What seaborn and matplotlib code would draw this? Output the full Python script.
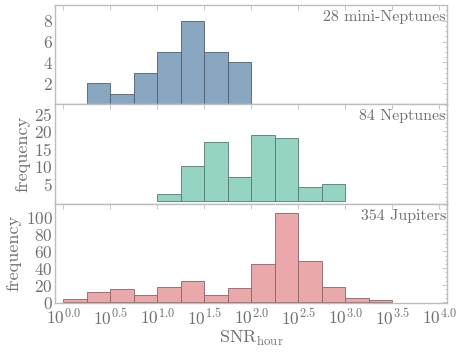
import numpy as np
import pandas as pd
import matplotlib
matplotlib.use("Agg")
import matplotlib.pyplot as plt
import seaborn as sns
from matplotlib.ticker import MultipleLocator, FuncFormatter, AutoMinorLocator

# log10(SNR_hour) bins are 0.25 dex wide; lower bin edges and counts
bin_width = 0.25

mini_lo = [0.25, 0.50, 0.75, 1.00, 1.25, 1.50, 1.75]
mini_counts = [2, 1, 3, 5, 8, 5, 4]

nep_lo = [1.00, 1.25, 1.50, 1.75, 2.00, 2.25, 2.50, 2.75]
nep_counts = [2, 10, 17, 7, 19, 18, 4, 5]

jup_lo = [0.00, 0.25, 0.50, 0.75, 1.00, 1.25, 1.50, 1.75,
          2.00, 2.25, 2.50, 2.75, 3.00, 3.25]
jup_counts = [4, 12, 15, 8, 18, 25, 9, 17, 45, 105, 49, 18, 5, 3]

panel_labels = ["28 mini-Neptunes", "84 Neptunes", "354 Jupiters"]
panel_colors = ["#8aa7c2", "#95d3c3", "#eaa8aa"]
edge_colors = ["#4d5f70", "#557a70", "#8a6264"]
y_limits = [(0, 9.5), (-0.8, 27.8), (-1, 116)]
y_ticks = [[2, 4, 6, 8], [5, 10, 15, 20, 25], [0, 20, 40, 60, 80, 100]]

sns.set_style("white")
plt.rcParams['font.family'] = ['cmr10', 'DejaVu Serif']
plt.rcParams['mathtext.fontset'] = 'cm'
plt.rcParams['axes.formatter.use_mathtext'] = True

frame_col = "#bdbdbd"
text_col = "#707070"

fig = plt.figure(figsize=(4.58, 3.52), dpi=100)
gs = fig.add_gridspec(3, 1, left=0.12, right=0.976, top=0.986, bottom=0.139,
                      hspace=0.0)
axes = [fig.add_subplot(gs[i]) for i in range(3)]

datasets = [(mini_lo, mini_counts), (nep_lo, nep_counts), (jup_lo, jup_counts)]

for i, (ax, (lo, cnt)) in enumerate(zip(axes, datasets)):
    df = pd.DataFrame({"logsnr": np.array(lo) + bin_width / 2, "n": cnt})
    edges = list(lo) + [lo[-1] + bin_width]
    sns.histplot(data=df, x="logsnr", weights="n", bins=edges, ax=ax,
                 color=panel_colors[i], alpha=1.0, edgecolor=edge_colors[i],
                 linewidth=0.6)
    ax.set_xlim(-0.09, 4.08)
    ax.set_ylim(*y_limits[i])
    ax.set_yticks(y_ticks[i])
    ax.xaxis.set_major_locator(MultipleLocator(0.5))
    ax.yaxis.set_minor_locator(AutoMinorLocator(4))
    ax.tick_params(axis="both", which="both", direction="in", colors=frame_col,
                   labelcolor=text_col, labelsize=12.5, width=0.6,
                   top=True, right=True, pad=1.5)
    ax.tick_params(which="major", length=3.5)
    ax.tick_params(which="minor", length=1.8)
    ax.tick_params(axis="x", pad=3)
    for s in ax.spines.values():
        s.set_color(frame_col)
        s.set_linewidth(1.0)
    ax.set_xlabel("")
    ax.set_ylabel("")
    ax.text(0.997, 0.95, panel_labels[i], transform=ax.transAxes,
            ha="right", va="top", fontsize=11.5, color=text_col)
    if i < 2:
        ax.tick_params(axis="x", labelbottom=False)

axes[1].set_ylabel("frequency", fontsize=13, color=text_col, labelpad=3)
axes[2].set_ylabel("frequency", fontsize=13, color=text_col, labelpad=3)
axes[2].xaxis.set_major_formatter(FuncFormatter(lambda v, p: r"$10^{%.1f}$" % v))
axes[2].set_xlabel(r"SNR$_{\mathrm{hour}}$", fontsize=13, color=text_col,
                   labelpad=1)

fig.savefig("out.png", dpi=100)
